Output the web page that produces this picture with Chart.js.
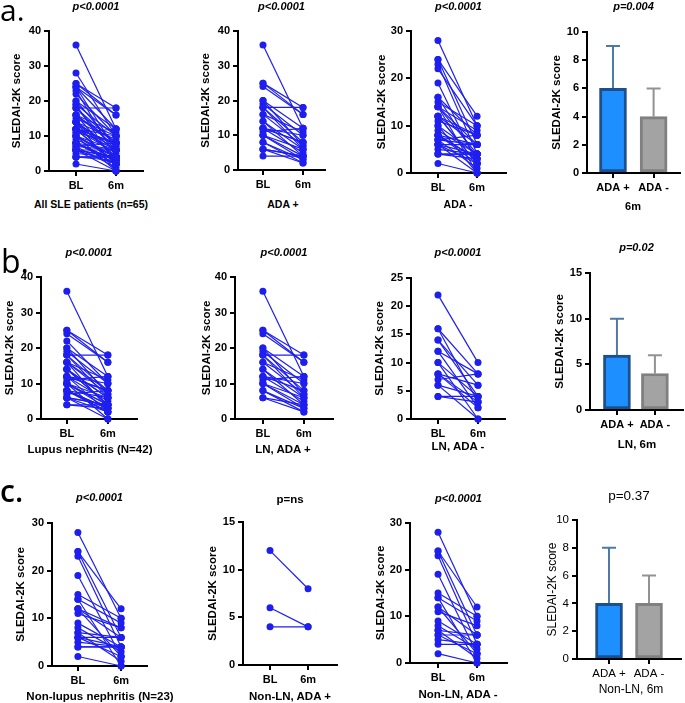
<!DOCTYPE html>
<html>
<head>
<meta charset="utf-8">
<script src="https://cdn.jsdelivr.net/npm/chart.js@4.4.0/dist/chart.umd.min.js"></script>
<style>
	body { margin: 0; background: #fff; width: 685px; height: 703px; position: relative; overflow: hidden; }
	canvas { position: absolute; }
	.tag { position: absolute; font-family: "Open Sans", sans-serif; line-height: 1; color: #000; z-index: 2; }
	.lbl { position: absolute; font-family: "Liberation Sans", Arial, sans-serif; line-height: 1; color: #000; white-space: nowrap; transform: translateX(-50%); font-weight: bold; z-index: 2; }
</style>
</head>
<body>
<div class="tag" style="left:0px;top:-5px;font-size:30px">a.</div>
<div class="tag" style="left:1px;top:245px;font-size:32px">b.</div>
<div class="tag" style="left:0px;top:476px;font-size:30px;font-weight:600">c.</div>

<div class="lbl" style="left:91px;top:199px;font-size:10.5px">All SLE patients (n=65)</div>
<div class="lbl" style="left:283px;top:199px;font-size:10.5px">ADA +</div>
<div class="lbl" style="left:458px;top:199px;font-size:10.5px">ADA -</div>
<div class="lbl" style="left:633px;top:201px;font-size:11px">6m</div>

<div class="lbl" style="left:90px;top:444px;font-size:11.5px">Lupus nephritis (N=42)</div>
<div class="lbl" style="left:283px;top:444px;font-size:11.5px">LN, ADA +</div>
<div class="lbl" style="left:458px;top:441px;font-size:11.5px">LN, ADA -</div>
<div class="lbl" style="left:637px;top:439px;font-size:11.5px">LN, 6m</div>

<div class="lbl" style="left:100px;top:691px;font-size:11.5px">Non-lupus nephritis (N=23)</div>
<div class="lbl" style="left:290px;top:691px;font-size:11.5px">Non-LN, ADA +</div>
<div class="lbl" style="left:458px;top:689px;font-size:11.5px">Non-LN, ADA -</div>
<div class="lbl" style="left:631px;top:683px;font-size:12px;font-weight:normal">Non-LN, 6m</div>

<script>
// paired SLEDAI-2K scores, baseline vs 6 months (one entry per patient)
const lnPosBL = [36, 25, 25, 24, 20, 19, 18, 18, 18, 16, 16, 14, 14, 12, 12, 11, 10, 10, 8, 8, 6, 6, 12, 20, 10];
const lnPos6m = [12, 16, 18, 16, 12, 10, 18, 8, 6, 7, 11, 6, 4, 10, 5, 12, 4, 6, 3, 2, 4, 2, 8, 7, 3];

const lnNegBL = [22, 16, 16, 14, 14, 12, 12, 10, 10, 8, 8, 8, 7, 6, 6, 4, 4];
const lnNeg6m = [10, 8, 3, 6, 4, 8, 2, 4, 0, 6, 3, 2, 8, 4, 0, 4, 3];

const nonLnPosBL = [12, 6, 4];
const nonLnPos6m = [8, 4, 4];

const nonLnNegBL = [28, 24, 24, 23, 19, 15, 14, 14, 12, 12, 11, 9, 8, 7, 7, 6, 6, 5, 4, 2];
const nonLnNeg6m = [10, 12, 6, 4, 2, 10, 9, 0, 6, 2, 8, 4, 3, 1, 6, 6, 2, 4, 4, 0];

const pairTicks = ["BL", "6m"];
const barTicks = ["ADA +", "ADA -"];

// 6m scores by ADA status: bar height and top of error bar
const medianAll = [6, 4];
const upperAll = [9, 6];
const medianLn = [6, 4];
const upperLn = [10, 6];
const medianNonLn = [4, 4];
const upperNonLn = [8, 6];

const FONT = "'Liberation Sans', Arial, sans-serif";
const BLUE = "rgb(30,30,238)";

const boldTick = { family: FONT, size: 11, weight: "bold" };
const pItalic = { family: FONT, size: 11, weight: "bold", style: "italic" };
const yBold = { family: FONT, size: 11.5, weight: "bold" };

const errorBars = {
	id: "errorBars",
	beforeDatasetsDraw: function(chart, args, opts) {
		const meta = chart.getDatasetMeta(0);
		const yScale = chart.scales.y;
		const ctx = chart.ctx;
		meta.data.forEach(function(bar, i) {
			const top = yScale.getPixelForValue(opts.upper[i]);
			ctx.save();
			ctx.strokeStyle = opts.colors[i];
			ctx.lineWidth = 2;
			ctx.beginPath();
			ctx.moveTo(bar.x, bar.y);
			ctx.lineTo(bar.x, top);
			ctx.moveTo(bar.x - 7, top);
			ctx.lineTo(bar.x + 7, top);
			ctx.stroke();
			ctx.restore();
		});
	}
};

function axisGrid() {
	return { display: true, drawOnChartArea: false, drawTicks: true, offset: false, tickLength: 5, tickWidth: 2, lineWidth: 2, color: "#000" };
}

function makeChart(p) {
	const tFont = p.pFont || pItalic;
	const yFont = p.yFont || yBold;
	const tickFont = p.tickFont || boldTick;
	const lhT = tFont.size * 1.2;
	const lhY = yFont.size * 1.2;
	const left = Math.floor(p.ytX - lhY / 2 - 1);
	const top = Math.max(0, Math.floor(p.pY - lhT / 2 - 1));
	const bottom = p.yB + 26;

	const cv = document.createElement("canvas");
	cv.width = p.x1 - left + 4;
	cv.height = bottom - top;
	cv.style.left = left + "px";
	cv.style.top = top + "px";
	document.body.appendChild(cv);

	const yWidth = p.x0 - left;
	const xHeight = bottom - p.yB;
	const labels = p.bar ? barTicks : pairTicks;

	let datasets;
	if (p.bar) {
		datasets = [{
			data: [{ x: 0, y: p.med[0] }, { x: 1, y: p.med[1] }],
			backgroundColor: ["#1e8fff", "#a3a3a3"],
			borderColor: ["#1c4f8e", "#808080"],
			borderWidth: 3,
			borderSkipped: false,
			barThickness: 27
		}];
	} else {
		datasets = p.bl.map(function(b, i) {
			return {
				data: [{ x: 0, y: b }, { x: 1, y: p.m6[i] }],
				borderColor: BLUE,
				backgroundColor: BLUE,
				borderWidth: 1.2,
				pointRadius: 3.5,
				pointBorderWidth: 0,
				clip: false
			};
		});
	}

	const config = {
		type: p.bar ? "bar" : "line",
		data: { datasets: datasets },
		options: {
			responsive: false,
			maintainAspectRatio: false,
			devicePixelRatio: 1,
			animation: false,
			layout: { padding: { left: 0, right: 4, top: 0, bottom: 0 } },
			plugins: {
				legend: { display: false },
				tooltip: { enabled: false },
				title: {
					display: true,
					text: p.p,
					font: tFont,
					color: "#000",
					fullSize: false,
					padding: { top: p.pY - top - lhT / 2, bottom: p.yT - p.pY - lhT / 2 }
				},
				errorBars: p.bar ? { upper: p.upper, colors: ["#4d7ba6", "#929292"] } : {}
			},
			scales: {
				x: {
					type: "linear",
					offset: false,
					min: p.xMin,
					max: p.xMax,
					afterBuildTicks: function(s) {
						s.ticks = [{ value: 0 }, { value: 1 }];
					},
					ticks: {
						font: tickFont,
						color: "#000",
						padding: 3,
						autoSkip: false,
						maxRotation: 0,
						callback: function(v, i) {
							return labels[i];
						}
					},
					grid: axisGrid(),
					border: { display: true, color: "#000", width: 2 },
					afterFit: function(s) {
						s.height = xHeight;
					}
				},
				y: {
					min: 0,
					max: p.yMax,
					ticks: { stepSize: p.step, font: tickFont, color: "#000", padding: 3 },
					grid: axisGrid(),
					border: { display: true, color: "#000", width: 2 },
					title: {
						display: true,
						text: "SLEDAI-2K score",
						font: yFont,
						color: "#000",
						padding: { top: p.ytX - left - lhY / 2, bottom: 0 }
					},
					afterFit: function(s) {
						s.width = yWidth;
					}
				}
			}
		},
		plugins: p.bar ? [errorBars] : []
	};
	return new Chart(cv.getContext("2d"), config);
}

const allBL = lnPosBL.concat(nonLnPosBL, lnNegBL, nonLnNegBL);
const all6m = lnPos6m.concat(nonLnPos6m, lnNeg6m, nonLnNeg6m);

// row a
makeChart({ bl: allBL, m6: all6m, x0: 49, x1: 143, yT: 31, yB: 171, xMin: -0.675, xMax: 1.675, yMax: 40, step: 10, p: "p<0.0001", pY: 7, ytX: 17 });
makeChart({ bl: lnPosBL.concat(nonLnPosBL), m6: lnPos6m.concat(nonLnPos6m), x0: 238, x1: 325, yT: 31, yB: 170, xMin: -0.625, xMax: 1.55, yMax: 40, step: 10, p: "p<0.0001", pY: 7, ytX: 206 });
makeChart({ bl: lnNegBL.concat(nonLnNegBL), m6: lnNeg6m.concat(nonLnNeg6m), x0: 411, x1: 506, yT: 31, yB: 173, xMin: -0.69, xMax: 1.74, yMax: 30, step: 10, p: "p<0.0001", pY: 7, ytX: 382 });
makeChart({ bar: true, med: medianAll, upper: upperAll, x0: 587, x1: 680, yT: 32, yB: 173, xMin: -0.64, xMax: 1.65, yMax: 10, step: 2, p: "p=0.004", pY: 7, ytX: 557 });

// row b
makeChart({ bl: lnPosBL.concat(lnNegBL), m6: lnPos6m.concat(lnNeg6m), x0: 41, x1: 137, yT: 277, yB: 419, xMin: -0.63, xMax: 1.71, yMax: 40, step: 10, p: "p<0.0001", pY: 253, ytX: 10 });
makeChart({ bl: lnPosBL, m6: lnPos6m, x0: 235, x1: 333, yT: 277, yB: 419, xMin: -0.68, xMax: 1.71, yMax: 40, step: 10, p: "p<0.0001", pY: 253, ytX: 207 });
makeChart({ bl: lnNegBL, m6: lnNeg6m, x0: 411, x1: 505, yT: 278, yB: 419, xMin: -0.675, xMax: 1.675, yMax: 25, step: 5, p: "p<0.0001", pY: 253, ytX: 380 });
makeChart({ bar: true, med: medianLn, upper: upperLn, x0: 590, x1: 683, yT: 273, yB: 410, xMin: -0.71, xMax: 1.74, yMax: 15, step: 5, p: "p=0.02", pY: 248, ytX: 560 });

// row c
makeChart({ bl: nonLnNegBL.concat(nonLnPosBL), m6: nonLnNeg6m.concat(nonLnPos6m), x0: 52, x1: 147, yT: 523, yB: 666, xMin: -0.6, xMax: 1.6, yMax: 30, step: 10, p: "p<0.0001", pY: 498, ytX: 21 });
makeChart({ bl: nonLnPosBL, m6: nonLnPos6m, x0: 243, x1: 337, yT: 522, yB: 665, xMin: -0.71, xMax: 1.76, yMax: 15, step: 5, p: "p=ns", pY: 500, ytX: 213,
	pFont: { family: FONT, size: 11.5, weight: "bold" } });
makeChart({ bl: nonLnNegBL, m6: nonLnNeg6m, x0: 410, x1: 507, yT: 523, yB: 663, xMin: -0.72, xMax: 1.77, yMax: 30, step: 10, p: "p<0.0001", pY: 499, ytX: 381 });
makeChart({ bar: true, med: medianNonLn, upper: upperNonLn, x0: 577, x1: 681, yT: 520, yB: 659, xMin: -0.8, xMax: 1.8, yMax: 10, step: 2, p: "p=0.37", pY: 496, ytX: 553,
	pFont: { family: FONT, size: 13.5, weight: "normal" },
	yFont: { family: FONT, size: 12, weight: "normal" },
	tickFont: { family: FONT, size: 11.5, weight: "normal" } });
</script>
</body>
</html>
